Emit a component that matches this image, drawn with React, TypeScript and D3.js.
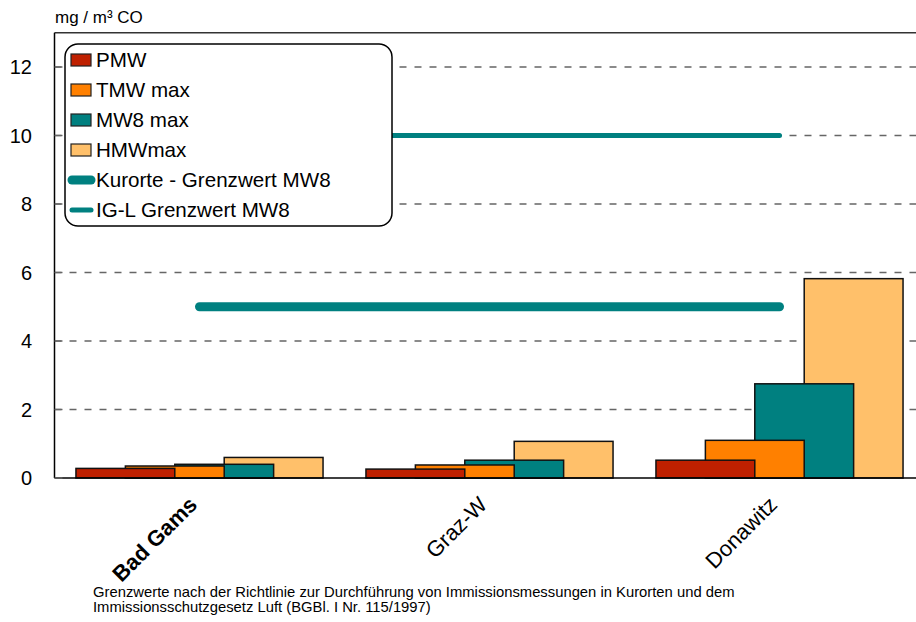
import React from "react";
import * as d3 from "d3";

const categories = ["Bad Gams", "Graz-W", "Donawitz"];
const seriesNames = ["PMW", "TMW max", "MW8 max", "HMWmax"];
const pmw = [0.28, 0.26, 0.52];
const tmwMax = [0.35, 0.38, 1.1];
const mw8Max = [0.4, 0.52, 2.75];
const hmwMax = [0.6, 1.07, 5.82];
const kurorteLimit = [5, 5, 5];
const iglLimit = [10, 10, 10];
const yTicks = [0, 2, 4, 6, 8, 10, 12];
const lineNames = ["Kurorte - Grenzwert MW8", "IG-L Grenzwert MW8"];
const footnote = [
  "Grenzwerte nach der Richtlinie zur Durchführung von Immissionsmessungen in Kurorten und dem",
  "Immissionsschutzgesetz Luft (BGBl. I Nr. 115/1997)",
];

const colors = ["#BF2000", "#FF8000", "#008080", "#FFC06A"];
const lineColor = "#008080";
const FONT = "Arial, 'Liberation Sans', Helvetica, sans-serif";

export default function App() {
  const W = 916, H = 622;
  const left = 54.5, right = 924.5, top = 32.75, bottom = 478;
  const x = d3.scaleBand<string>().domain(categories).range([left, right]).padding(0);
  const y = d3.scaleLinear().domain([0, 13]).range([bottom, top]);
  const series = [pmw, tmwMax, mw8Max, hmwMax];
  const groupW = x.bandwidth() * 0.852;
  const bw = groupW / 2.5;
  const center = (c: string) => (x(c) as number) + x.bandwidth() / 2;

  const line = d3
    .line<number>()
    .x((_, i) => center(categories[i]))
    .y((d) => y(d));

  const drawOrder = [3, 2, 1, 0];

  return (
    <svg
      width={W}
      height={H}
      style={{ position: "absolute", left: 0, top: 0, background: "#fff" }}
      fontFamily={FONT}
    >
      <rect x={0} y={0} width={W} height={H} fill="#fff" />
      {/* title */}
      <text x={55} y={23} fontSize={17} fill="#000">mg / m³ CO</text>

      {/* gridlines */}
      {yTicks.filter((t) => t > 0).map((t) => (
        <line
          key={t}
          x1={left}
          x2={right}
          y1={y(t)}
          y2={y(t)}
          stroke="#666"
          strokeWidth={1.4}
          strokeDasharray="7,8"
        />
      ))}

      {/* plot frame top */}
      <line x1={left} x2={right} y1={top} y2={top} stroke="#333" strokeWidth={1.4} />

      {/* bars */}
      {drawOrder.map((si) =>
        categories.map((c, ci) => {
          const x0 = center(c) - groupW / 2 + si * (bw / 2);
          const v = series[si][ci];
          return (
            <rect
              key={si + "-" + ci}
              x={x0}
              y={y(v)}
              width={bw}
              height={y(0) - y(v)}
              fill={colors[si]}
              stroke="#111"
              strokeWidth={1.5}
            />
          );
        })
      )}

      {/* limit lines */}
      <path d={line(kurorteLimit) || ""} stroke={lineColor} strokeWidth={9} fill="none" strokeLinecap="round" />
      <path d={line(iglLimit) || ""} stroke={lineColor} strokeWidth={5} fill="none" strokeLinecap="round" />

      {/* axes */}
      <line x1={left} x2={left} y1={top} y2={bottom} stroke="#000" strokeWidth={1.5} />
      <line x1={left} x2={right} y1={bottom} y2={bottom} stroke="#000" strokeWidth={1.5} />
      {yTicks.map((t) => (
        <g key={t}>
          <line x1={left} x2={left + 8} y1={y(t)} y2={y(t)} stroke="#666" strokeWidth={1.4} />
          <text x={32} y={y(t)} dy="0.36em" textAnchor="end" fontSize={20} fill="#000">
            {t}
          </text>
        </g>
      ))}

      {/* category labels */}
      {categories.map((c, i) => (
        <text
          key={c}
          transform={`translate(${center(c) - 1},${506}) rotate(-45)`}
          textAnchor="end"
          fontSize={22}
          fontWeight={i === 0 ? "bold" : "normal"}
          fill="#000"
        >
          {c}
        </text>
      ))}

      {/* legend */}
      <g>
        <rect x={65} y={44} width={327} height={182} rx={13} ry={13} fill="#fff" stroke="#000" strokeWidth={1.5} />
        {seriesNames.map((n, i) => {
          const cy = 60 + i * 30;
          return (
            <g key={n}>
              <rect x={71} y={cy - 6} width={20} height={12} fill={colors[i]} stroke="#222" strokeWidth={1.2} />
              <text x={96} y={cy} dy="0.36em" fontSize={20.6} fill="#000">{n}</text>
            </g>
          );
        })}
        {lineNames.map((n, i) => {
          const cy = 60 + (i + 4) * 30;
          return (
            <g key={n}>
              <line
                x1={72}
                x2={91}
                y1={cy}
                y2={cy}
                stroke={lineColor}
                strokeWidth={i === 0 ? 9 : 5}
                strokeLinecap="round"
              />
              <text x={96} y={cy} dy="0.36em" fontSize={20.6} fill="#000">{n}</text>
            </g>
          );
        })}
      </g>

      {/* footnote */}
      {footnote.map((f, i) => (
        <text key={i} x={93} y={597 + i * 15} fontSize={14.8} fill="#000">
          {f}
        </text>
      ))}
    </svg>
  );
}
